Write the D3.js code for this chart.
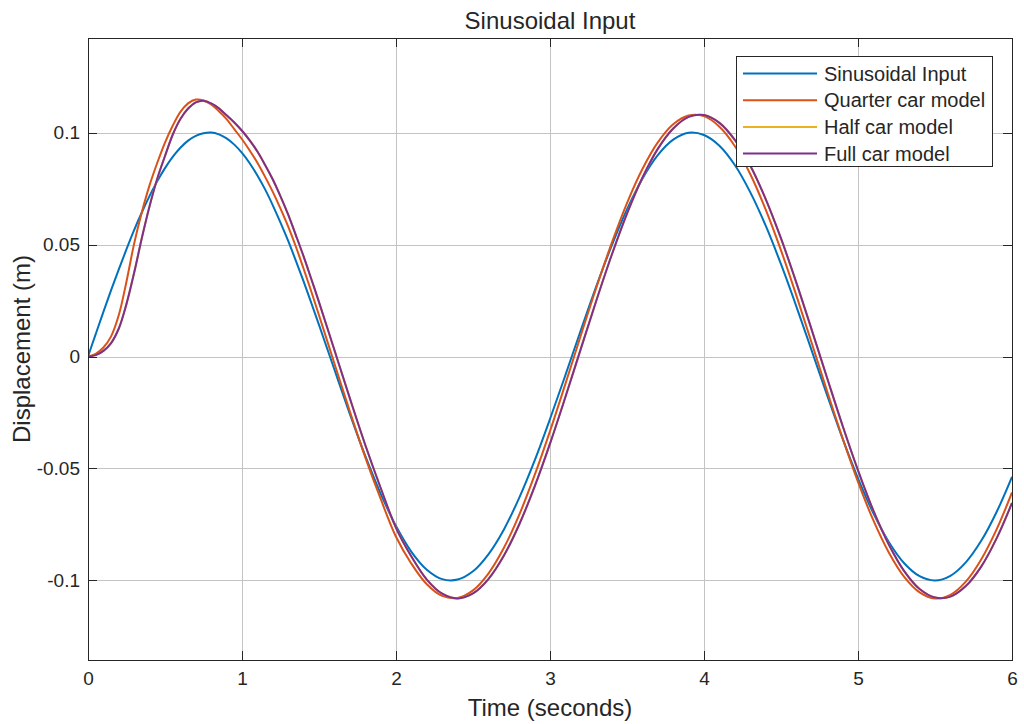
<!DOCTYPE html>
<html><head><meta charset="utf-8">
<script src="https://cdn.jsdelivr.net/npm/d3@7"></script>
<style>body{margin:0;background:#fff}svg{display:block}text{font-family:"Liberation Sans",Arial,Helvetica,sans-serif;fill:#262626}</style>
</head><body>
<script>
const timeValues = [0,0.05,0.1,0.15,0.2,0.25,0.3,0.35,0.4,0.45,0.5,0.55,0.6,0.65,0.7,0.75,0.8,0.85,0.9,0.95,1.0,1.05,1.1,1.15,1.2,1.25,1.3,1.35,1.4,1.45,1.5,1.6,1.7,1.8,1.9,2.0,2.1,2.2,2.3,2.4,2.5,2.6,2.7,2.8,2.9,3.0,3.1,3.2,3.3,3.4,3.5,3.6,3.7,3.8,3.9,4.0,4.1,4.2,4.3,4.4,4.5,4.6,4.7,4.8,4.9,5.0,5.1,5.2,5.3,5.4,5.5,5.6,5.7,5.8,5.9,6.0];
const sinusoidalInput = [0,0.0100,0.0199,0.0296,0.0389,0.0479,0.0565,0.0644,0.0717,0.0783,0.0841,0.0891,0.0932,0.0964,0.0985,0.0997,0.1000,0.0992,0.0974,0.0946,0.0909,0.0863,0.0808,0.0746,0.0675,0.0598,0.0516,0.0427,0.0335,0.0239,0.0141,-0.0058,-0.0256,-0.0443,-0.0612,-0.0757,-0.0872,-0.0952,-0.0994,-0.0996,-0.0959,-0.0883,-0.0773,-0.0631,-0.0465,-0.0279,-0.0083,0.0117,0.0312,0.0494,0.0657,0.0794,0.0899,0.0968,0.0999,0.0989,0.0941,0.0855,0.0734,0.0585,0.0412,0.0223,0.0025,-0.0174,-0.0367,-0.0544,-0.0700,-0.0828,-0.0923,-0.0981,-0.1000,-0.0979,-0.0919,-0.0823,-0.0694,-0.0537];
const quarterCar = [0,0.0012,0.0040,0.0090,0.0185,0.0335,0.0505,0.0645,0.0765,0.0865,0.0955,0.1030,0.1092,0.1130,0.1147,0.1143,0.1125,0.1095,0.1060,0.1015,0.0970,0.0920,0.0865,0.0802,0.0735,0.0660,0.0580,0.0490,0.0392,0.0290,0.0184,-0.0031,-0.0245,-0.0449,-0.0635,-0.0805,-0.0925,-0.1017,-0.1069,-0.1078,-0.1044,-0.0969,-0.0855,-0.0707,-0.0530,-0.0333,-0.0122,0.0094,0.0306,0.0505,0.0685,0.0837,0.0956,0.1037,0.1076,0.1073,0.1026,0.0940,0.0815,0.0657,0.0474,0.0272,0.0059,-0.0156,-0.0365,-0.0560,-0.0732,-0.0875,-0.0984,-0.1053,-0.1080,-0.1064,-0.1005,-0.0906,-0.0772,-0.0607];
const halfCar = [0,0.0006,0.0025,0.0060,0.0125,0.0235,0.0375,0.0530,0.0672,0.0795,0.0895,0.0990,0.1060,0.1107,0.1135,0.1142,0.1130,0.1108,0.1077,0.1045,0.1008,0.0965,0.0915,0.0855,0.0790,0.0715,0.0633,0.0541,0.0447,0.0346,0.0243,0.0029,-0.0186,-0.0394,-0.0586,-0.0765,-0.0893,-0.0996,-0.1059,-0.1080,-0.1058,-0.0994,-0.0890,-0.0750,-0.0581,-0.0389,-0.0181,0.0034,0.0248,0.0452,0.0638,0.0798,0.0927,0.1018,0.1070,0.1078,0.1043,0.0967,0.0853,0.0704,0.0527,0.0329,0.0118,-0.0097,-0.0309,-0.0508,-0.0688,-0.0839,-0.0958,-0.1038,-0.1076,-0.1072,-0.1025,-0.0938,-0.0812,-0.0654];
const fullCar = [0,0.0006,0.0025,0.0060,0.0125,0.0235,0.0375,0.0530,0.0672,0.0795,0.0895,0.0990,0.1060,0.1107,0.1135,0.1142,0.1130,0.1108,0.1077,0.1045,0.1008,0.0965,0.0915,0.0855,0.0790,0.0715,0.0633,0.0541,0.0447,0.0346,0.0243,0.0029,-0.0186,-0.0394,-0.0586,-0.0765,-0.0893,-0.0996,-0.1059,-0.1080,-0.1058,-0.0994,-0.0890,-0.0750,-0.0581,-0.0389,-0.0181,0.0034,0.0248,0.0452,0.0638,0.0798,0.0927,0.1018,0.1070,0.1078,0.1043,0.0967,0.0853,0.0704,0.0527,0.0329,0.0118,-0.0097,-0.0309,-0.0508,-0.0688,-0.0839,-0.0958,-0.1038,-0.1076,-0.1072,-0.1025,-0.0938,-0.0812,-0.0654];
const seriesNames = ["Sinusoidal Input","Quarter car model","Half car model","Full car model"];
const seriesColors = ["#0072BD","#D95319","#EDB120","#7E2F8E"];
const xTicks = [0,1,2,3,4,5,6];
const yTicks = [-0.1,-0.05,0,0.05,0.1];
const yTickLabels = ["-0.1","-0.05","0","0.05","0.1"];
const titleText = "Sinusoidal Input";
const xLabel = "Time (seconds)";
const yLabel = "Displacement (m)";

(function(){
const W = 1024, H = 724;
const L = 88, R = 1012, T = 38, B = 660;
const svg = d3.select("body").append("svg").attr("width", W).attr("height", H);
const x = d3.scaleLinear().domain([0, 6]).range([L, R]);
const y = d3.scaleLinear().domain([-0.1355, 0.1422]).range([B, T]);

const grid = svg.append("g").attr("stroke", "#c4c4c4").attr("stroke-width", 1).attr("shape-rendering", "crispEdges");
xTicks.forEach(t => grid.append("line").attr("x1", Math.round(x(t))+0.5).attr("x2", Math.round(x(t))+0.5).attr("y1", T).attr("y2", B));
yTicks.forEach(t => grid.append("line").attr("y1", Math.round(y(t))+0.5).attr("y2", Math.round(y(t))+0.5).attr("x1", L).attr("x2", R));

const data = [sinusoidalInput, quarterCar, halfCar, fullCar];
const line = d3.line().x((d, i) => x(timeValues[i])).y(d => y(d)).curve(d3.curveCatmullRom.alpha(0.5));
const plot = svg.append("g");
plot.append("clipPath").attr("id", "clip").append("rect").attr("x", L).attr("y", T).attr("width", R - L).attr("height", B - T);
data.forEach((s, k) => {
  plot.append("path").attr("d", line(s)).attr("fill", "none").attr("stroke", seriesColors[k]).attr("stroke-width", 2).attr("stroke-linejoin", "round").attr("clip-path", "url(#clip)");
});

const ax = svg.append("g").attr("shape-rendering", "crispEdges");
const axB = d3.axisBottom(x).tickValues(xTicks).tickSizeInner(-9).tickSizeOuter(0).tickPadding(12).tickFormat(d3.format("d"));
const gB = ax.append("g").attr("transform", `translate(0,${B})`).call(axB);
const axT = d3.axisTop(x).tickValues(xTicks).tickSizeInner(-9).tickSizeOuter(0).tickFormat("");
ax.append("g").attr("transform", `translate(0,${T})`).call(axT);
const axL = d3.axisLeft(y).tickValues(yTicks).tickSizeInner(-9).tickSizeOuter(0).tickPadding(8).tickFormat((d, i) => yTickLabels[i]);
ax.append("g").attr("transform", `translate(${L},0)`).call(axL);
const axR = d3.axisRight(y).tickValues(yTicks).tickSizeInner(-9).tickSizeOuter(0).tickFormat("");
ax.append("g").attr("transform", `translate(${R},0)`).call(axR);
ax.selectAll(".domain").attr("stroke", "#262626").attr("stroke-width", 1.3);
ax.selectAll(".tick line").attr("stroke", "#262626");
ax.selectAll(".tick text").attr("font-size", 19).attr("fill", "#262626").attr("font-family", "Liberation Sans, Arial, sans-serif");
gB.selectAll(".tick text").attr("dy", "0.71em");

svg.append("text").attr("x", (L + R) / 2).attr("y", 29).attr("text-anchor", "middle").attr("font-size", 24).attr("fill", "#000").text(titleText);
svg.append("text").attr("x", (L + R) / 2).attr("y", 716).attr("text-anchor", "middle").attr("font-size", 24).attr("fill", "#000").text(xLabel);
svg.append("text").attr("transform", `translate(30,${(T + B) / 2}) rotate(-90)`).attr("text-anchor", "middle").attr("font-size", 24).attr("fill", "#000").text(yLabel);

const lg = svg.append("g");
lg.append("rect").attr("x", 736.5).attr("y", 56.5).attr("width", 256).attr("height", 110).attr("fill", "#fff").attr("stroke", "#262626").attr("stroke-width", 1);
seriesNames.forEach((n, i) => {
  const yy = 73.5 + i * 26.7;
  lg.append("line").attr("x1", 743).attr("x2", 817).attr("y1", yy).attr("y2", yy).attr("stroke", seriesColors[i]).attr("stroke-width", 2);
  lg.append("text").attr("x", 824).attr("y", yy).attr("dy", "0.35em").attr("font-size", 20).attr("fill", "#000").text(n);
});
})();
</script>
</body></html>
